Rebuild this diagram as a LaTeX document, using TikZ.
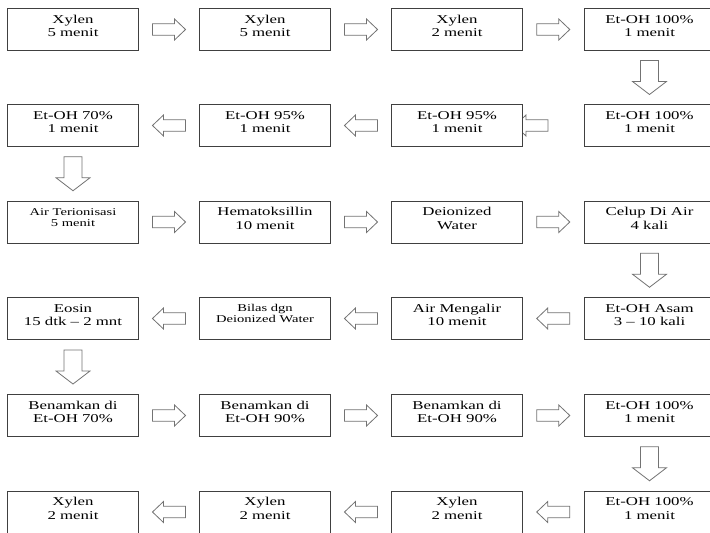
\documentclass[tikz,border=0pt]{standalone}
\usepackage{fontspec}
\setmainfont{Liberation Serif}[FakeStretch=1.4]
\usetikzlibrary{calc}
\pgfdeclarelayer{background}
\pgfsetlayers{background,main}

\begin{document}
\begin{tikzpicture}[
  x=0.75pt, y=0.75pt,
  stepbox/.style={rectangle, draw=black!75, fill=white, line width=0.7pt, minimum width=98.25pt, inner sep=0pt, align=center, text height=21.2pt, text depth=10.3pt, font=\fontsize{9}{10.2}\selectfont},
  smallbox/.style={stepbox, text height=19pt, text depth=12.5pt, font=\fontsize{7.8}{8.3}\selectfont},
  blockarrow/.style n args={4}{draw=black!55, fill=white, line width=0.6pt, to path={
    let \p1=(\tikztostart), \p2=(\tikztotarget), \n1={atan2(\y2-\y1,\x2-\x1)} in
    ($(\p1)!.5!(\p2)+(\n1:-#1)+(\n1+90:#3)$) -- ($(\p1)!.5!(\p2)+(\n1:#2)+(\n1+90:#3)$)
    -- ($(\p1)!.5!(\p2)+(\n1:#2)+(\n1+90:#4)$) -- ($(\p1)!.5!(\p2)+(\n1:#1)$)
    -- ($(\p1)!.5!(\p2)+(\n1:#2)+(\n1-90:#4)$) -- ($(\p1)!.5!(\p2)+(\n1:#2)+(\n1-90:#3)$)
    -- ($(\p1)!.5!(\p2)+(\n1:-#1)+(\n1-90:#3)$) -- cycle}},
  hflow/.style={blockarrow={12.4pt}{4.1pt}{4.3pt}{7.9pt}},
  vflow/.style={blockarrow={12.75pt}{3pt}{6.75pt}{12.75pt}}
]
\useasboundingbox (0,0) rectangle (710,-532);

% Row 1
\node[stepbox] (s1) at (73,-29.5) {Xylen\\5 menit};
\node[stepbox] (s2) at (265,-29.5) {Xylen\\5 menit};
\node[stepbox] (s3) at (457,-29.5) {Xylen\\2 menit};
\node[stepbox] (s4) at (649.5,-29.5) {Et-OH 100\%\\1 menit};

% Row 2
\node[stepbox] (s5) at (649.5,-125.5) {Et-OH 100\%\\1 menit};
\node[stepbox] (s6) at (457,-125.5) {Et-OH 95\%\\1 menit};
\node[stepbox] (s7) at (265,-125.5) {Et-OH 95\%\\1 menit};
\node[stepbox] (s8) at (73,-125.5) {Et-OH 70\%\\1 menit};

% Row 3
\node[smallbox] (s9) at (73,-222) {Air Terionisasi\\5 menit};
\node[stepbox] (s10) at (265,-222) {Hematoksillin\\10 menit};
\node[stepbox] (s11) at (457,-222) {Deionized\\Water};
\node[stepbox] (s12) at (649.5,-222) {Celup Di Air\\4 kali};

% Row 4
\node[stepbox] (s13) at (649.5,-318.5) {Et-OH Asam\\3 -- 10 kali};
\node[stepbox] (s14) at (457,-318.5) {Air Mengalir\\10 menit};
\node[smallbox] (s15) at (265,-318.5) {Bilas dgn\\Deionized Water};
\node[stepbox] (s16) at (73,-318.5) {Eosin\\15 dtk -- 2 mnt};

% Row 5
\node[stepbox] (s17) at (73,-415.5) {Benamkan di\\Et-OH 70\%};
\node[stepbox] (s18) at (265,-415.5) {Benamkan di\\Et-OH 90\%};
\node[stepbox] (s19) at (457,-415.5) {Benamkan di\\Et-OH 90\%};
\node[stepbox] (s20) at (649.5,-415.5) {Et-OH 100\%\\1 menit};

% Row 6
\node[stepbox] (s21) at (649.5,-512) {Et-OH 100\%\\1 menit};
\node[stepbox] (s22) at (457,-512) {Xylen\\2 menit};
\node[stepbox] (s23) at (265,-512) {Xylen\\2 menit};
\node[stepbox] (s24) at (73,-512) {Xylen\\2 menit};

% Arrows
\begin{pgfonlayer}{background}
\draw[hflow] (s1) to (s2);
\draw[hflow] (s2) to (s3);
\draw[hflow] (s3) to (s4);
\draw[vflow] (s4) to (s5);
\draw[hflow] (s5) to ([xshift=-32.6pt]s6.center);
\draw[hflow] (s6) to (s7);
\draw[hflow] (s7) to (s8);
\draw[vflow] (s8) to (s9);
\draw[hflow] (s9) to (s10);
\draw[hflow] (s10) to (s11);
\draw[hflow] (s11) to (s12);
\draw[vflow] (s12) to (s13);
\draw[hflow] (s13) to (s14);
\draw[hflow] (s14) to (s15);
\draw[hflow] (s15) to (s16);
\draw[vflow] (s16) to (s17);
\draw[hflow] (s17) to (s18);
\draw[hflow] (s18) to (s19);
\draw[hflow] (s19) to (s20);
\draw[vflow] (s20) to (s21);
\draw[hflow] (s21) to (s22);
\draw[hflow] (s22) to (s23);
\draw[hflow] (s23) to (s24);
\end{pgfonlayer}

\end{tikzpicture}
\end{document}
